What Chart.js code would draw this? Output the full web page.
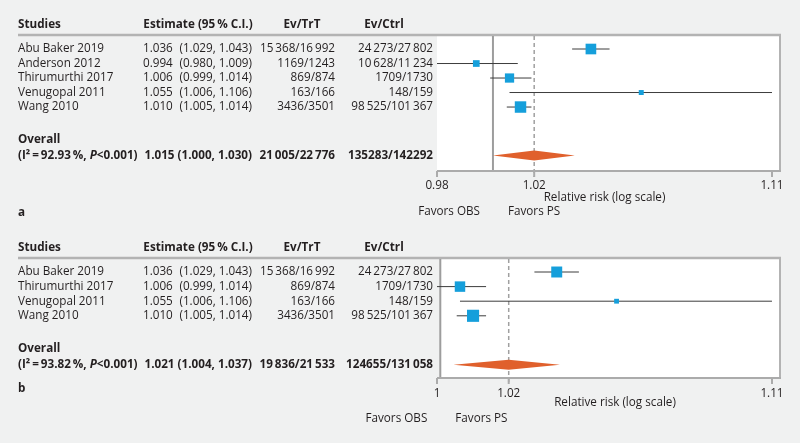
<!DOCTYPE html>
<html><head><meta charset="utf-8">
<script src="https://cdn.jsdelivr.net/npm/chart.js@4/dist/chart.umd.min.js"></script>
<style>
html,body{margin:0;padding:0;background:#f0f1f1;}
#wrap{position:relative;width:800px;height:443px;overflow:hidden;background:#f0f1f1;}
canvas{position:absolute;left:0;}
</style></head><body>
<div id="wrap">
<canvas id="ca" width="800" height="222" style="top:0px;width:800px;height:222px"></canvas>
<canvas id="cb" width="800" height="221" style="top:222px;width:800px;height:221px"></canvas>
</div>
<script>
// ---------- DATA: panel a ----------
const studiesA = ["Abu Baker 2019", "Anderson 2012", "Thirumurthi 2017", "Venugopal 2011", "Wang 2010"];
const estA  = [1.036, 0.994, 1.006, 1.055, 1.010];
const lowA  = [1.029, 0.980, 0.999, 1.006, 1.005];
const highA = [1.043, 1.009, 1.014, 1.106, 1.014];
const evTrtA  = ["15\u2009368/16\u2009992", "1169/1243", "869/874", "163/166", "3436/3501"];
const evCtrlA = ["24\u2009273/27\u2009802", "10\u2009628/11\u2009234", "1709/1730", "148/159", "98\u2009525/101\u2009367"];
const weightsA = [28.4, 11.2, 21.4, 6.2, 32.8];
const overallA = [1.015, 1.000, 1.030];           // estimate, lower, upper
const overallStatsA = ["92.93", "<0.001", "21\u2009005/22\u2009776", "135283/142292"]; // I2, P, Ev/TrT, Ev/Ctrl
const ticksA = [0.980, 1.015, 1.106];
const rangeA = [0.98, 1.1092];

// ---------- DATA: panel b ----------
const studiesB = ["Abu Baker 2019", "Thirumurthi 2017", "Venugopal 2011", "Wang 2010"];
const estB  = [1.036, 1.006, 1.055, 1.010];
const lowB  = [1.029, 0.999, 1.006, 1.005];
const highB = [1.043, 1.014, 1.106, 1.014];
const evTrtB  = ["15\u2009368/16\u2009992", "869/874", "163/166", "3436/3501"];
const evCtrlB = ["24\u2009273/27\u2009802", "1709/1730", "148/159", "98\u2009525/101\u2009367"];
const weightsB = [30.1, 27.4, 5.8, 36.7];
const overallB = [1.021, 1.004, 1.037];
const overallStatsB = ["93.82", "<0.001", "19\u2009836/21\u2009533", "124655/131\u2009058"];
const ticksB = [0.999, 1.021, 1.106];
const rangeB = [0.999, 1.1087];

const headers = ["Studies", "Estimate (95\u2009% C.I.)", "Ev/TrT", "Ev/Ctrl"];
const FONT = '"Open Sans", "Noto Sans", sans-serif';
const FS = 11.7;
const TXT = '#231f20';

function fmtTick(v) { return String(parseFloat((v + 1e-9).toFixed(2))); }

function makePanel(id, p) {
  const n = p.studies.length;
  const yOverall = n + 2.35;

  const datasets = [
    {
      order: 0,
      data: p.est.map((v, i) => ({ x: v, y: i })),
      pointStyle: 'rect',
      pointRadius: p.weights.map(w => Math.sqrt(2 * w)),
      backgroundColor: '#159fdb',
      borderWidth: 0
    }
  ];
  p.est.forEach((v, i) => {
    datasets.push({
      order: 1,
      showLine: true,
      data: [{ x: p.low[i], y: i }, { x: p.high[i], y: i }],
      borderColor: '#3c3c3c',
      borderWidth: 1,
      pointRadius: 0,
      fill: false
    });
  });

  function t(ctx, s, x, y, align, weight, style) {
    ctx.font = (style || '') + ' ' + (weight || 'normal') + ' ' + FS + 'px ' + FONT;
    ctx.textAlign = align || 'left';
    ctx.textBaseline = 'middle';
    ctx.fillStyle = TXT;
    ctx.fillText(s, x, y);
    return ctx.measureText(s).width;
  }

  const plugin = {
    id: 'forest' + id,
    beforeDatasetsDraw(chart) {
      const ctx = chart.ctx, a = chart.chartArea, xs = chart.scales.x;
      const nullX = xs.getPixelForValue(1);
      ctx.save();
      const boxL = p.boxFromNull ? nullX : a.left;
      ctx.fillStyle = '#ffffff';
      ctx.fillRect(boxL, a.top, a.right - boxL, a.bottom - a.top);
      ctx.strokeStyle = '#b3b3b3';
      ctx.lineWidth = 2.5;
      ctx.beginPath(); ctx.moveTo(18, a.top); ctx.lineTo(a.right + 1, a.top); ctx.stroke();
      ctx.lineWidth = 2;
      ctx.beginPath(); ctx.moveTo(a.right, a.top); ctx.lineTo(a.right, a.bottom); ctx.stroke();
      ctx.strokeStyle = '#9d9d9d';
      ctx.lineWidth = 2;
      ctx.beginPath(); ctx.moveTo(nullX, a.top + 1); ctx.lineTo(nullX, a.bottom); ctx.stroke();
      const ox = xs.getPixelForValue(p.overall[0]);
      ctx.strokeStyle = '#a0a0a0';
      ctx.lineWidth = 1.5;
      ctx.setLineDash([4, 3]);
      ctx.beginPath(); ctx.moveTo(ox, a.top + 1); ctx.lineTo(ox, a.bottom + 6); ctx.stroke();
      ctx.setLineDash([]);
      ctx.restore();
    },
    afterDatasetsDraw(chart) {
      const ctx = chart.ctx, a = chart.chartArea, xs = chart.scales.x, ys = chart.scales.y;
      ctx.save();
      const yo = ys.getPixelForValue(yOverall);
      const dl = xs.getPixelForValue(p.overall[1]), dc = xs.getPixelForValue(p.overall[0]), dr = xs.getPixelForValue(p.overall[2]);
      ctx.fillStyle = '#e0602c';
      ctx.beginPath();
      ctx.moveTo(dl, yo); ctx.lineTo(dc, yo - 5); ctx.lineTo(dr, yo); ctx.lineTo(dc, yo + 5); ctx.closePath();
      ctx.fill();
      ctx.strokeStyle = '#ababab';
      ctx.lineWidth = 2;
      ctx.beginPath(); ctx.moveTo(a.left, a.bottom); ctx.lineTo(a.right + 1, a.bottom); ctx.stroke();
      p.ticks.forEach(v => {
        const x = xs.getPixelForValue(v);
        ctx.beginPath(); ctx.moveTo(x, a.bottom); ctx.lineTo(x, a.bottom + 6); ctx.stroke();
        t(ctx, fmtTick(v), x, a.bottom + p.tickLabelDy, 'center');
      });
      t(ctx, 'Relative risk (log scale)', p.titleX, a.bottom + p.titleDy, 'center');
      const nullX = xs.getPixelForValue(1);
      t(ctx, 'Favors OBS', nullX - 13, a.bottom + 41, 'right');
      t(ctx, 'Favors PS', nullX + 15, a.bottom + 41, 'left');
      t(ctx, p.letter, 18, p.letterY, 'left', 'bold');

      const hy = a.top - 10.5;
      t(ctx, headers[0], 18, hy, 'left', 'bold');
      t(ctx, headers[1], 198, hy, 'center', 'bold');
      t(ctx, headers[2], 302, hy, 'center', 'bold');
      t(ctx, headers[3], 384, hy, 'center', 'bold');

      p.studies.forEach((s, i) => {
        const y = ys.getPixelForValue(i);
        t(ctx, s, 18, y, 'left');
        t(ctx, p.est[i].toFixed(3), 143, y, 'left');
        t(ctx, '(' + p.low[i].toFixed(3) + ', ' + p.high[i].toFixed(3) + ')', 252, y, 'right');
        t(ctx, p.evTrt[i], 335, y, 'right');
        t(ctx, p.evCtrl[i], 433, y, 'right');
      });

      t(ctx, 'Overall', 18, yo - 16, 'left', 'bold');
      let x = 18;
      x += t(ctx, '(I\u00b2\u2009=\u2009' + p.stats[0] + '\u2009%, ', x, yo, 'left', 'bold');
      x += t(ctx, 'P', x, yo, 'left', 'bold', 'italic');
      t(ctx, p.stats[1] + ')', x, yo, 'left', 'bold');
      t(ctx, p.overall[0].toFixed(3) + ' (' + p.overall[1].toFixed(3) + ', ' + p.overall[2].toFixed(3) + ')', 252, yo, 'right', 'bold');
      t(ctx, p.stats[2], 335, yo, 'right', 'bold');
      t(ctx, p.stats[3], 433, yo, 'right', 'bold');
      ctx.restore();
    }
  };

  return new Chart(document.getElementById(id), {
    type: 'scatter',
    data: { datasets },
    options: {
      responsive: false,
      animation: false,
      devicePixelRatio: 1,
      layout: { padding: p.padding },
      plugins: { legend: { display: false }, tooltip: { enabled: false } },
      events: [],
      scales: {
        x: { type: 'logarithmic', min: p.range[0], max: p.range[1], display: false },
        y: { type: 'linear', reverse: true, min: p.yRange[0], max: p.yRange[1], display: false }
      }
    },
    plugins: [plugin]
  });
}

makePanel('ca', {
  studies: studiesA, est: estA, low: lowA, high: highA, evTrt: evTrtA, evCtrl: evCtrlA,
  weights: weightsA, overall: overallA, stats: overallStatsA, ticks: ticksA, range: rangeA,
  yRange: [-0.966, 8.41], padding: { left: 437, right: 20, top: 35, bottom: 51 },
  boxFromNull: false, tickLabelDy: 15, titleDy: 27, titleX: 604.5, letter: 'a', letterY: 213
});
makePanel('cb', {
  studies: studiesB, est: estB, low: lowB, high: highB, evTrt: evTrtB, evCtrl: evCtrlB,
  weights: weightsB, overall: overallB, stats: overallStatsB, ticks: ticksB, range: rangeB,
  yRange: [-0.959, 7.26], padding: { left: 437, right: 20, top: 36, bottom: 65 },
  boxFromNull: true, tickLabelDy: 16, titleDy: 25, titleX: 615, letter: 'b', letterY: 167
});
</script>
</body></html>
